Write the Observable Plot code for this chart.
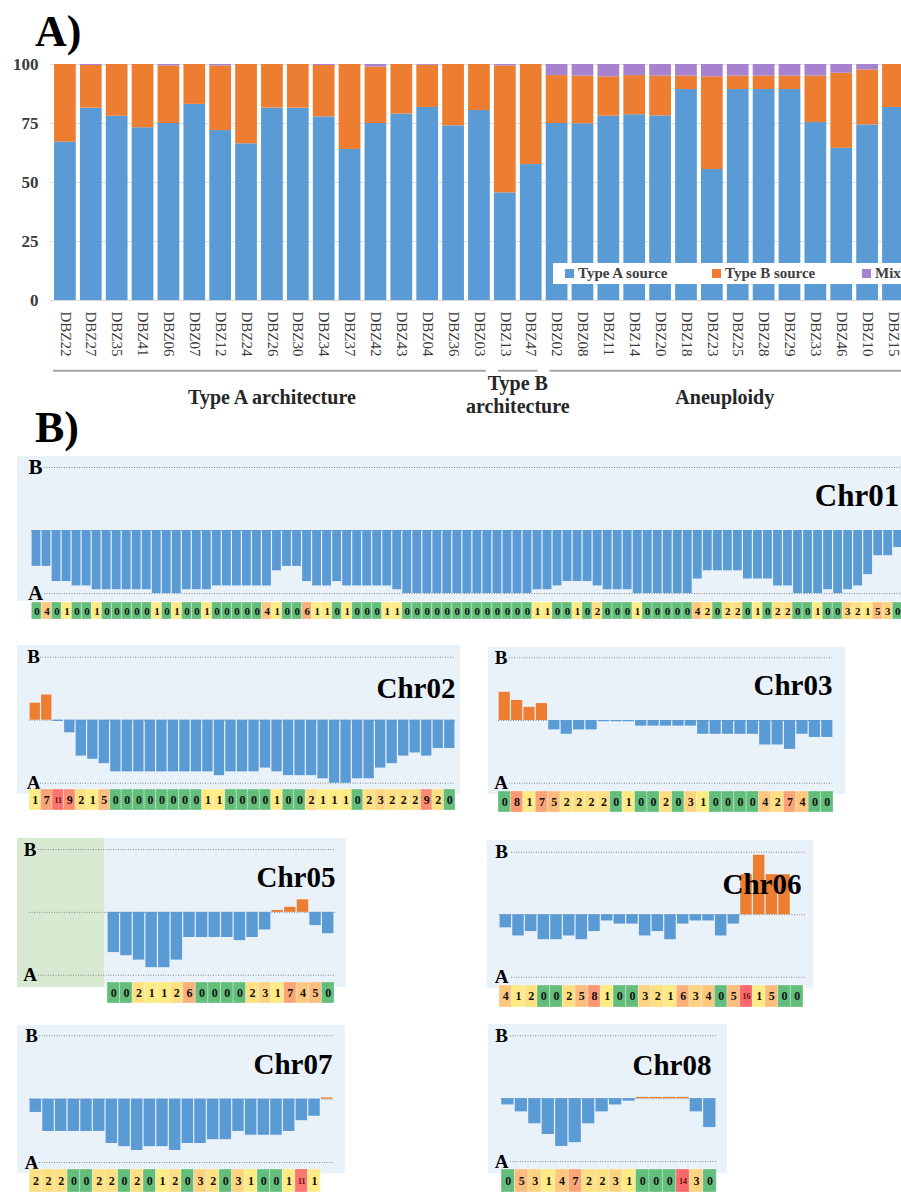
<!DOCTYPE html>
<html><head><meta charset="utf-8">
<script src="https://cdn.jsdelivr.net/npm/d3@7"></script>
<script src="https://cdn.jsdelivr.net/npm/@observablehq/plot@0.6"></script>
<style>
html,body{margin:0;padding:0;background:#fff;}
#root{position:relative;width:901px;height:1192px;overflow:hidden;font-family:"Liberation Serif","Times New Roman",serif;}
.ttl{position:absolute;font-weight:bold;font-size:44px;line-height:1;color:#000;}
</style></head><body><div id="root"></div>
<script>
// ---------------- DATA: panel A ----------------
const samples = ["DBZ22","DBZ27","DBZ35","DBZ41","DBZ06","DBZ07","DBZ12","DBZ24","DBZ26","DBZ30","DBZ34","DBZ37","DBZ42","DBZ43","DBZ04","DBZ36","DBZ03","DBZ13","DBZ47","DBZ02","DBZ08","DBZ11","DBZ14","DBZ20","DBZ18","DBZ23","DBZ25","DBZ28","DBZ29","DBZ33","DBZ46","DBZ10","DBZ15"];
const typeASource = [67.1,81.5,78.1,73.2,75.0,83.1,72.0,66.4,81.5,81.5,77.8,64.0,75.0,79.0,81.8,74.0,80.5,45.6,57.6,75.0,74.9,78.1,78.7,78.2,89.4,55.5,89.4,89.4,89.4,75.4,64.5,74.4,81.8];
const typeBSource = [32.9,18.1,21.9,26.8,24.4,16.9,27.4,33.6,18.5,18.5,21.8,36.0,23.9,21.0,17.9,26.0,19.5,53.8,42.4,20.3,20.2,16.7,16.6,16.9,5.7,39.3,5.7,5.7,5.7,19.7,31.8,23.3,18.2];
const mixSource   = [0,0.4,0,0,0.6,0,0.6,0,0,0,0.4,0,1.1,0,0.3,0,0,0.6,0,4.7,4.9,5.2,4.7,4.9,4.9,5.2,4.9,4.9,4.9,4.9,3.7,2.3,0];
const sourceNames = ["Type A source","Type B source","Mix"];
const yTicksA = [0,25,50,75,100];
const groupLabels = ["Type A architecture","Type B\narchitecture","Aneuploidy"];
const groupFirst = ["DBZ22","DBZ13","DBZ02"];
const groupLast  = ["DBZ03","DBZ47","DBZ15"];

// ---------------- DATA: panel B (ratio %, + = type B, - = type A; counts row) ----------------
const chr01Ratio = [-57,-57,-81,-81,-88,-88,-94,-94,-94,-94,-94,-94,-100,-100,-100,-94,-94,-94,-88,-88,-88,-88,-88,-88,-64,-57,-57,-81,-88,-88,-81,-88,-88,-88,-88,-88,-94,-100,-100,-100,-100,-100,-100,-100,-100,-100,-100,-100,-100,-100,-94,-94,-88,-81,-81,-81,-88,-94,-94,-94,-100,-100,-100,-100,-100,-100,-77,-64,-64,-64,-64,-77,-77,-77,-88,-88,-100,-100,-100,-94,-100,-94,-88,-70,-40,-40,-27];
const chr01Counts = [0,4,0,1,0,0,1,0,0,0,0,0,1,0,1,0,0,1,0,0,0,0,0,4,1,0,0,6,1,1,0,1,0,0,0,1,1,0,0,0,0,0,0,0,0,0,0,0,0,0,1,1,0,0,1,0,2,0,0,0,1,0,0,0,0,0,4,2,0,2,2,0,1,0,2,2,0,0,1,0,0,3,2,1,5,3,0];
const chr02Ratio = [27,40,-2,-20,-57,-62,-69,-82,-82,-82,-82,-82,-82,-82,-82,-82,-88,-82,-82,-82,-76,-82,-88,-88,-88,-93,-100,-100,-93,-93,-76,-69,-57,-52,-57,-45,-45];
const chr02Counts = [1,7,11,9,2,1,5,0,0,0,0,0,0,0,0,1,1,0,0,0,0,1,0,0,2,1,1,1,0,2,3,2,2,2,9,2,0];
const chr03Ratio = [45,32,21,27,-15,-22,-15,-15,-2,-2,-2,-9,-9,-9,-9,-9,-22,-22,-22,-22,-22,-39,-39,-46,-22,-27,-27];
const chr03Counts = [0,8,1,7,5,2,2,2,2,0,1,0,0,2,0,3,1,0,0,0,0,4,2,7,4,0,0];
const chr05Ratio = [-64,-69,-76,-88,-88,-76,-40,-40,-40,-40,-45,-40,-28,3,8,20,-21,-34];
const chr05Counts = [0,0,2,1,1,2,6,0,0,0,0,2,3,1,7,4,5,0];
const chr06Ratio = [-21,-34,-27,-40,-40,-34,-40,-27,-10,-15,-15,-34,-27,-40,-15,-10,-10,-34,-15,64,95,64,64,null];
const chr06Counts = [4,1,2,0,0,2,5,8,1,0,0,3,2,1,6,3,4,0,5,16,1,5,0,0];
const chr07Ratio = [-21,-51,-51,-51,-51,-51,-70,-75,-81,-75,-75,-81,-70,-70,-64,-64,-51,-57,-57,-57,-51,-34,-27,2];
const chr07Counts = [2,2,2,0,0,2,2,0,2,0,1,2,0,3,2,0,3,1,0,0,1,11,1];
const chr08Ratio = [-10,-21,-40,-57,-76,-70,-40,-21,-10,-4,2,2,2,2,-21,-46];
const chr08Counts = [0,5,3,1,4,7,2,2,3,1,0,0,0,14,3,0];

// ---------------- STYLE / LAYOUT ----------------
const SERIF = '"Liberation Serif","Times New Roman",serif';
const sourceColors = ["#5b9bd5","#ed7d31","#a682cf"];
const BLUE = "#5b9bd5", ORANGE = "#ed7d31", PANEL_BG = "#e9f1f9", GREEN_BG = "#d7e9d0";
const cellColor = {type:"linear", domain:[0,1,12], range:["#63be7b","#ffeb84","#f8696b"], clamp:true};

const root = document.getElementById("root");
function place(node, left, top){ node.style.position="absolute"; node.style.left=left+"px"; node.style.top=top+"px"; node.style.maxWidth="none"; root.appendChild(node); return node; }
function box(left, top, right, bottom, color){ const d=document.createElement("div"); d.style.cssText=`width:${right-left}px;height:${bottom-top}px;background:${color};`; return place(d,left,top); }
function title(txt, left, top){ const d=document.createElement("div"); d.className="ttl"; d.textContent=txt; return place(d,left,top); }

// ---------------- PANEL A ----------------
title("A)", 35, 10);
const LA = {width: 920, height: 420, marginLeft: 49.9, marginRight: 12, marginTop: 64, marginBottom: 120};
const stacked = samples.flatMap((s,i)=>[
  {sample:s, source:sourceNames[0], value:typeASource[i]},
  {sample:s, source:sourceNames[1], value:typeBSource[i]},
  {sample:s, source:sourceNames[2], value:mixSource[i]}
]);
const plotA = Plot.plot({
  ...LA,
  style:{fontFamily:SERIF, background:"transparent", overflow:"visible", maxWidth:"none"},
  x:{domain:samples, padding:0.16, round:false},
  y:{domain:[0,100]},
  color:{domain:sourceNames, range:sourceColors},
  marks:[
    Plot.gridY(yTicksA, {stroke:"#dcdcdc", strokeOpacity:1}),
    Plot.barY(stacked, {x:"sample", y:"value", fill:"source", order:sourceNames}),
    Plot.axisX({tickRotate:90, tickSize:0, tickPadding:11, fontSize:15, color:"#3a3a3a", label:null}),
    Plot.axisY(yTicksA, {tickSize:0, tickPadding:12, fontSize:17, fontWeight:"bold", color:"#3a3a3a", label:null})
  ]
});
place(plotA, 0, 0);

// group brackets and labels, positioned from the x scale
const xA = plotA.scale("x");
const bw = xA.bandwidth;
const groupLineY = 370.7, groupBaseOne = 404, groupBaseTwo = 390, groupLineGap = 23;
const gB = groupFirst.map((f,g)=>({l:xA.apply(f), r:xA.apply(groupLast[g])+bw}));
const selA = d3.select(plotA);
gB.forEach((b,g)=>{
  const prev = gB[g-1], next = gB[g+1];
  const x1 = prev ? (prev.r+b.l)/2+6 : b.l-1;
  const x2 = next ? (b.r+next.l)/2-6 : LA.width;
  selA.append("line").attr("x1",x1).attr("x2",x2).attr("y1",groupLineY).attr("y2",groupLineY)
    .attr("stroke","#a6a6a6").attr("stroke-width",2);
  const lines = groupLabels[g].split("\n");
  const t = selA.append("text").attr("text-anchor","middle").attr("font-weight","bold")
    .attr("font-size",20).attr("fill","#262626").attr("font-family",SERIF);
  const base = lines.length>1 ? groupBaseTwo : groupBaseOne;
  lines.forEach((ln,k)=>t.append("tspan").attr("x",(b.l+b.r)/2).attr("y",base+k*groupLineGap).text(ln));
});

// legend
const leg = document.createElement("div");
leg.style.cssText = `width:360px;height:21px;background:#fff;font-weight:bold;font-size:15px;font-family:${SERIF};color:#404040;`;
const legOffsets = [12,159,309];
sourceNames.forEach((nm,k)=>{
  const it = document.createElement("div");
  it.style.cssText = `position:absolute;left:${legOffsets[k]}px;top:0;height:21px;line-height:21px;white-space:nowrap;`;
  it.innerHTML = `<span style="display:inline-block;width:9px;height:9px;background:${sourceColors[k]};margin-right:4px;"></span>${nm}`;
  leg.appendChild(it);
});
place(leg, 553, 263);

// ---------------- PANEL B ----------------
title("B)", 35, 406);

function drawPanel(name, values, counts, L){
  const n = values.length;
  const step = (L.bars[1]-L.bars[0])/n;
  const toX = px => (px-L.bars[0])/step;
  const W = L.box[2]-L.box[0], H = L.box[3]-L.box[1];
  const bars = values.map((v,i)=>({i,v})).filter(d=>d.v!=null);
  const dotted = {stroke:"#8a8a8a", strokeWidth:1, strokeDasharray:"1,1.5"};
  const p = Plot.plot({
    width:W, height:H,
    marginLeft:L.bars[0]-L.box[0], marginRight:L.box[2]-L.bars[1],
    marginTop:L.yB-L.box[1], marginBottom:L.box[3]-L.yA,
    x:{type:"linear", domain:[0,n], axis:null},
    y:{type:"linear", domain:[-100,100], axis:null},
    style:{fontFamily:SERIF, background:L.bg===undefined?PANEL_BG:L.bg, overflow:"visible", maxWidth:"none"},
    marks:[
      Plot.ruleY([100,-100], {x1:toX(L.dotLeft), x2:toX(L.lineRight), ...dotted}),
      Plot.ruleY([0], {x1:toX(L.zeroLeft), x2:toX(L.lineRight), ...dotted}),
      Plot.rect(bars.filter(d=>d.v<0), {x1:"i", x2:d=>d.i+1, y1:0, y2:"v", fill:BLUE, insetLeft:0.6, insetRight:0.6}),
      Plot.rect(bars.filter(d=>d.v>0), {x1:"i", x2:d=>d.i+1, y1:0, y2:"v", fill:ORANGE, insetLeft:0.6, insetRight:0.6}),
      Plot.text(["B","A"], {x:toX(L.letterX), y:[100,-100], text:d=>d, fontSize:L.letterSize, fontWeight:"bold", fill:"#000"}),
      Plot.text([name], {frameAnchor:"top-right", textAnchor:"end", text:d=>d, dx:L.labelDx||0,
        dy:L.labelBaseline-L.yB-0.32*L.labelSize, fontSize:L.labelSize, fontWeight:"bold", fill:"#000"})
    ]
  });
  place(p, L.box[0], L.box[1]);

  const nc = counts.length;
  const cells = counts.map((c,i)=>({i,c}));
  const q = Plot.plot({
    width:nc*step, height:L.cells[1]-L.cells[0], margin:0,
    x:{type:"linear", domain:[0,nc], axis:null},
    color:cellColor,
    style:{fontFamily:SERIF, background:"transparent", overflow:"visible", maxWidth:"none"},
    marks:[
      Plot.rect(cells, {x1:"i", x2:d=>d.i+1, fill:"c", stroke:"#ffffff", strokeOpacity:0.8, strokeWidth:0.7, strokeDasharray:"1,1"}),
      Plot.text(cells.filter(d=>d.c<10), {x:d=>d.i+0.5, text:"c", fontSize:L.cellFont||12, fontWeight:"bold", fill:"#111"}),
      Plot.text(cells.filter(d=>d.c>=10), {x:d=>d.i+0.5, text:"c", fontSize:8, fontWeight:"bold", fill:"#6b0f0f"})
    ]
  });
  place(q, L.bars[0], L.cells[0]);
}

const layouts = {
  Chr01:{box:[17,456,910,601], bars:[31,902.7], yB:467, yA:593, zeroLeft:31, dotLeft:44, lineRight:910, letterX:35, letterSize:21, labelSize:31, labelBaseline:493, labelDx:-4, cells:[602,619], cellFont:11},
  Chr02:{box:[17,645,460,794], bars:[29,455], yB:656.7, yA:782.7, zeroLeft:29, dotLeft:40, lineRight:455, letterX:33, letterSize:19, labelSize:29, labelBaseline:686, cells:[789,810]},
  Chr03:{box:[488,647,845,794], bars:[498,833], yB:657.3, yA:782.7, zeroLeft:498, dotLeft:509, lineRight:832, letterX:500.5, letterSize:19, labelSize:29, labelBaseline:683, labelDx:-1, cells:[791,812]},
  Chr05:{box:[17,838,346,987], bg:"transparent", bars:[107,334], yB:849, yA:974.7, zeroLeft:29, dotLeft:38, lineRight:335, letterX:29.5, letterSize:19, labelSize:29, labelBaseline:875, labelDx:1, cells:[982,1003]},
  Chr06:{box:[487,840,813,988], bars:[499,803], yB:851.7, yA:976.7, zeroLeft:499, dotLeft:511, lineRight:805, letterX:501, letterSize:19, labelSize:29, labelBaseline:882, labelDx:-2, cells:[985,1007]},
  Chr07:{box:[17,1025,345,1173], bars:[29,333], yB:1035.3, yA:1162, zeroLeft:29, dotLeft:39, lineRight:333, letterX:31, letterSize:19, labelSize:29, labelBaseline:1062, labelDx:-1, cells:[1169,1192]},
  Chr08:{box:[488,1024,727,1173], bars:[500.7,716], yB:1035.3, yA:1161, zeroLeft:500.7, dotLeft:510, lineRight:716, letterX:501, letterSize:19, labelSize:29, labelBaseline:1063, labelDx:-5, cells:[1169,1192]}
};

box(17,838,104,987,GREEN_BG);
box(104,838,346,987,PANEL_BG);
drawPanel("Chr01", chr01Ratio, chr01Counts, layouts.Chr01);
drawPanel("Chr02", chr02Ratio, chr02Counts, layouts.Chr02);
drawPanel("Chr03", chr03Ratio, chr03Counts, layouts.Chr03);
drawPanel("Chr05", chr05Ratio, chr05Counts, layouts.Chr05);
drawPanel("Chr06", chr06Ratio, chr06Counts, layouts.Chr06);
drawPanel("Chr07", chr07Ratio, chr07Counts, layouts.Chr07);
drawPanel("Chr08", chr08Ratio, chr08Counts, layouts.Chr08);
</script></body></html>
